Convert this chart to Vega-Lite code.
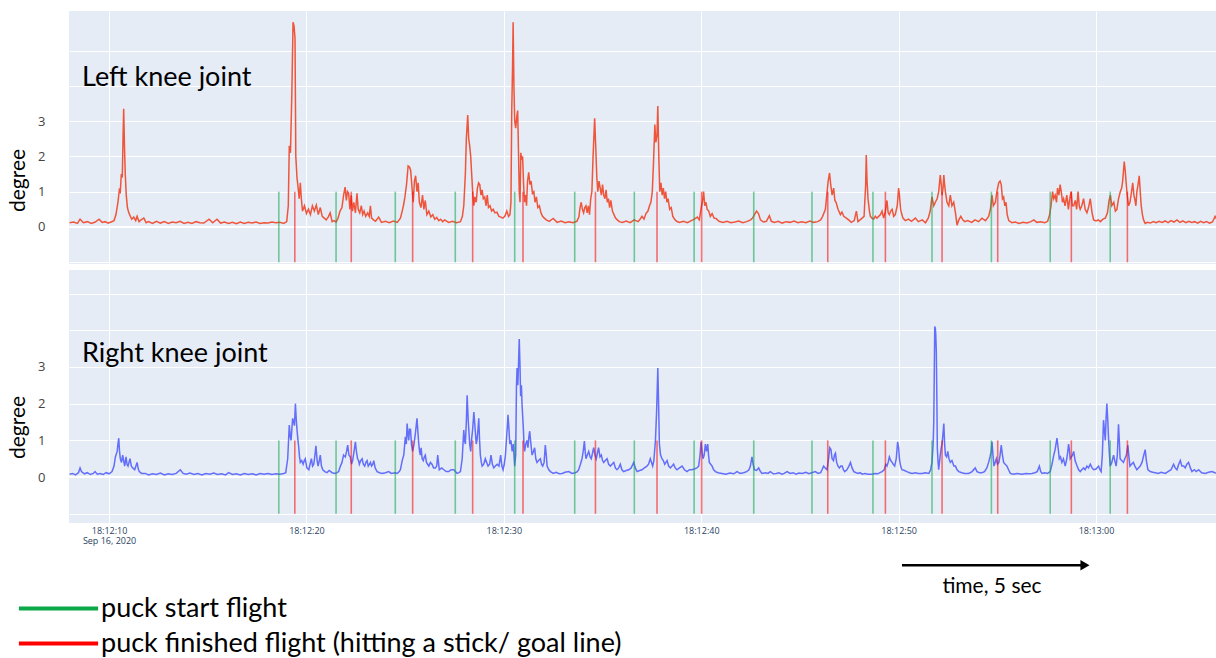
{
"$schema": "https://vega.github.io/schema/vega-lite/v6.json",
"padding": {"left": 7, "top": 11, "right": 0, "bottom": 0},
"background": "white",
"config": {
  "view": {"fill": "#E5ECF6", "stroke": null},
  "axis": {"domain": false, "ticks": false, "gridColor": "white"}
},
"datasets": {
"E": [
{"t":"2020-09-16T18:12:18.60","e":"puck start flight"},
{"t":"2020-09-16T18:12:21.50","e":"puck start flight"},
{"t":"2020-09-16T18:12:24.50","e":"puck start flight"},
{"t":"2020-09-16T18:12:27.54","e":"puck start flight"},
{"t":"2020-09-16T18:12:30.55","e":"puck start flight"},
{"t":"2020-09-16T18:12:33.59","e":"puck start flight"},
{"t":"2020-09-16T18:12:36.61","e":"puck start flight"},
{"t":"2020-09-16T18:12:39.64","e":"puck start flight"},
{"t":"2020-09-16T18:12:42.66","e":"puck start flight"},
{"t":"2020-09-16T18:12:45.61","e":"puck start flight"},
{"t":"2020-09-16T18:12:48.70","e":"puck start flight"},
{"t":"2020-09-16T18:12:51.69","e":"puck start flight"},
{"t":"2020-09-16T18:12:54.70","e":"puck start flight"},
{"t":"2020-09-16T18:12:57.68","e":"puck start flight"},
{"t":"2020-09-16T18:13:00.72","e":"puck start flight"},
{"t":"2020-09-16T18:12:19.41","e":"puck finished flight (hitting a stick/ goal line)"},
{"t":"2020-09-16T18:12:22.27","e":"puck finished flight (hitting a stick/ goal line)"},
{"t":"2020-09-16T18:12:25.38","e":"puck finished flight (hitting a stick/ goal line)"},
{"t":"2020-09-16T18:12:28.42","e":"puck finished flight (hitting a stick/ goal line)"},
{"t":"2020-09-16T18:12:30.97","e":"puck finished flight (hitting a stick/ goal line)"},
{"t":"2020-09-16T18:12:34.64","e":"puck finished flight (hitting a stick/ goal line)"},
{"t":"2020-09-16T18:12:37.76","e":"puck finished flight (hitting a stick/ goal line)"},
{"t":"2020-09-16T18:12:40.02","e":"puck finished flight (hitting a stick/ goal line)"},
{"t":"2020-09-16T18:12:46.41","e":"puck finished flight (hitting a stick/ goal line)"},
{"t":"2020-09-16T18:12:49.33","e":"puck finished flight (hitting a stick/ goal line)"},
{"t":"2020-09-16T18:12:52.20","e":"puck finished flight (hitting a stick/ goal line)"},
{"t":"2020-09-16T18:12:55.02","e":"puck finished flight (hitting a stick/ goal line)"},
{"t":"2020-09-16T18:12:58.75","e":"puck finished flight (hitting a stick/ goal line)"},
{"t":"2020-09-16T18:13:01.59","e":"puck finished flight (hitting a stick/ goal line)"}
],
"L": [
{"t":"2020-09-16T18:12:08.00","v":0.12},{"t":"2020-09-16T18:12:08.20","v":0.14},{"t":"2020-09-16T18:12:08.40","v":0.1},{"t":"2020-09-16T18:12:08.53","v":0.22},{"t":"2020-09-16T18:12:08.70","v":0.12},{"t":"2020-09-16T18:12:08.90","v":0.15},{"t":"2020-09-16T18:12:09.10","v":0.1},{"t":"2020-09-16T18:12:09.30","v":0.14},{"t":"2020-09-16T18:12:09.49","v":0.22},{"t":"2020-09-16T18:12:09.65","v":0.13},{"t":"2020-09-16T18:12:09.80","v":0.15},{"t":"2020-09-16T18:12:09.95","v":0.11},
{"t":"2020-09-16T18:12:10.10","v":0.14},{"t":"2020-09-16T18:12:10.25","v":0.18},{"t":"2020-09-16T18:12:10.35","v":0.35},{"t":"2020-09-16T18:12:10.45","v":0.7},{"t":"2020-09-16T18:12:10.52","v":1.05},{"t":"2020-09-16T18:12:10.57","v":1.0},{"t":"2020-09-16T18:12:10.62","v":1.5},{"t":"2020-09-16T18:12:10.67","v":1.4},{"t":"2020-09-16T18:12:10.71","v":2.6},{"t":"2020-09-16T18:12:10.74","v":3.35},{"t":"2020-09-16T18:12:10.78","v":2.3},{"t":"2020-09-16T18:12:10.82","v":1.5},{"t":"2020-09-16T18:12:10.87","v":0.9},{"t":"2020-09-16T18:12:10.93","v":0.55},
{"t":"2020-09-16T18:12:11.00","v":0.4},{"t":"2020-09-16T18:12:11.08","v":0.3},{"t":"2020-09-16T18:12:11.15","v":0.22},{"t":"2020-09-16T18:12:11.25","v":0.28},{"t":"2020-09-16T18:12:11.35","v":0.18},{"t":"2020-09-16T18:12:11.42","v":0.3},{"t":"2020-09-16T18:12:11.52","v":0.15},{"t":"2020-09-16T18:12:11.62","v":0.2},{"t":"2020-09-16T18:12:11.76","v":0.25},{"t":"2020-09-16T18:12:11.88","v":0.12},
{"t":"2020-09-16T18:12:12.00","v":0.15},{"t":"2020-09-16T18:12:12.20","v":0.1},{"t":"2020-09-16T18:12:12.40","v":0.16},{"t":"2020-09-16T18:12:12.60","v":0.11},{"t":"2020-09-16T18:12:12.80","v":0.15},{"t":"2020-09-16T18:12:13.00","v":0.1},{"t":"2020-09-16T18:12:13.20","v":0.14},{"t":"2020-09-16T18:12:13.40","v":0.12},{"t":"2020-09-16T18:12:13.60","v":0.16},{"t":"2020-09-16T18:12:13.80","v":0.1},{"t":"2020-09-16T18:12:14.00","v":0.13},{"t":"2020-09-16T18:12:14.20","v":0.1},{"t":"2020-09-16T18:12:14.40","v":0.15},{"t":"2020-09-16T18:12:14.60","v":0.12},{"t":"2020-09-16T18:12:14.80","v":0.11},{"t":"2020-09-16T18:12:15.07","v":0.22},{"t":"2020-09-16T18:12:15.25","v":0.12},{"t":"2020-09-16T18:12:15.47","v":0.22},{"t":"2020-09-16T18:12:15.65","v":0.11},{"t":"2020-09-16T18:12:15.85","v":0.14},{"t":"2020-09-16T18:12:16.05","v":0.1},{"t":"2020-09-16T18:12:16.25","v":0.13},{"t":"2020-09-16T18:12:16.45","v":0.09},{"t":"2020-09-16T18:12:16.65","v":0.14},{"t":"2020-09-16T18:12:16.85","v":0.1},{"t":"2020-09-16T18:12:17.05","v":0.13},{"t":"2020-09-16T18:12:17.25","v":0.11},{"t":"2020-09-16T18:12:17.45","v":0.14},{"t":"2020-09-16T18:12:17.65","v":0.1},{"t":"2020-09-16T18:12:17.85","v":0.12},{"t":"2020-09-16T18:12:18.05","v":0.11},{"t":"2020-09-16T18:12:18.25","v":0.14},{"t":"2020-09-16T18:12:18.45","v":0.12},{"t":"2020-09-16T18:12:18.65","v":0.13},{"t":"2020-09-16T18:12:18.85","v":0.1},
{"t":"2020-09-16T18:12:19.00","v":0.15},{"t":"2020-09-16T18:12:19.08","v":0.6},{"t":"2020-09-16T18:12:19.13","v":2.3},{"t":"2020-09-16T18:12:19.19","v":2.1},{"t":"2020-09-16T18:12:19.26","v":3.8},{"t":"2020-09-16T18:12:19.32","v":5.8},{"t":"2020-09-16T18:12:19.37","v":5.7},{"t":"2020-09-16T18:12:19.42","v":5.35},{"t":"2020-09-16T18:12:19.46","v":2.0},{"t":"2020-09-16T18:12:19.52","v":1.4},{"t":"2020-09-16T18:12:19.58","v":1.1},{"t":"2020-09-16T18:12:19.63","v":0.8},{"t":"2020-09-16T18:12:19.69","v":1.25},{"t":"2020-09-16T18:12:19.74","v":0.8},{"t":"2020-09-16T18:12:19.80","v":0.45},{"t":"2020-09-16T18:12:19.90","v":0.6},
{"t":"2020-09-16T18:12:20.00","v":0.38},{"t":"2020-09-16T18:12:20.10","v":0.5},{"t":"2020-09-16T18:12:20.20","v":0.35},{"t":"2020-09-16T18:12:20.30","v":0.6},{"t":"2020-09-16T18:12:20.40","v":0.45},{"t":"2020-09-16T18:12:20.50","v":0.62},{"t":"2020-09-16T18:12:20.60","v":0.35},{"t":"2020-09-16T18:12:20.70","v":0.55},{"t":"2020-09-16T18:12:20.80","v":0.3},{"t":"2020-09-16T18:12:20.90","v":0.25},{"t":"2020-09-16T18:12:21.00","v":0.2},{"t":"2020-09-16T18:12:21.10","v":0.28},{"t":"2020-09-16T18:12:21.20","v":0.4},{"t":"2020-09-16T18:12:21.30","v":0.15},{"t":"2020-09-16T18:12:21.40","v":0.18},{"t":"2020-09-16T18:12:21.50","v":0.14},{"t":"2020-09-16T18:12:21.60","v":0.25},{"t":"2020-09-16T18:12:21.70","v":0.45},{"t":"2020-09-16T18:12:21.80","v":0.55},{"t":"2020-09-16T18:12:21.88","v":0.9},{"t":"2020-09-16T18:12:21.96","v":1.13},
{"t":"2020-09-16T18:12:22.02","v":0.75},{"t":"2020-09-16T18:12:22.08","v":1.0},{"t":"2020-09-16T18:12:22.14","v":0.95},{"t":"2020-09-16T18:12:22.20","v":0.5},{"t":"2020-09-16T18:12:22.27","v":0.9},{"t":"2020-09-16T18:12:22.33","v":0.45},{"t":"2020-09-16T18:12:22.40","v":0.7},{"t":"2020-09-16T18:12:22.48","v":0.4},{"t":"2020-09-16T18:12:22.56","v":0.95},{"t":"2020-09-16T18:12:22.62","v":0.5},{"t":"2020-09-16T18:12:22.70","v":0.4},{"t":"2020-09-16T18:12:22.78","v":0.6},{"t":"2020-09-16T18:12:22.85","v":0.35},{"t":"2020-09-16T18:12:22.92","v":0.45},{"t":"2020-09-16T18:12:23.00","v":0.3},{"t":"2020-09-16T18:12:23.10","v":0.4},{"t":"2020-09-16T18:12:23.18","v":0.3},{"t":"2020-09-16T18:12:23.24","v":0.6},{"t":"2020-09-16T18:12:23.30","v":0.25},{"t":"2020-09-16T18:12:23.40","v":0.2},{"t":"2020-09-16T18:12:23.50","v":0.16},{"t":"2020-09-16T18:12:23.66","v":0.28},{"t":"2020-09-16T18:12:23.80","v":0.13},{"t":"2020-09-16T18:12:24.00","v":0.16},{"t":"2020-09-16T18:12:24.20","v":0.12},{"t":"2020-09-16T18:12:24.40","v":0.17},{"t":"2020-09-16T18:12:24.60","v":0.13},{"t":"2020-09-16T18:12:24.76","v":0.25},{"t":"2020-09-16T18:12:24.85","v":0.45},{"t":"2020-09-16T18:12:24.93","v":0.65},
{"t":"2020-09-16T18:12:25.00","v":0.9},{"t":"2020-09-16T18:12:25.07","v":1.2},{"t":"2020-09-16T18:12:25.15","v":1.73},{"t":"2020-09-16T18:12:25.22","v":1.7},{"t":"2020-09-16T18:12:25.28","v":1.6},{"t":"2020-09-16T18:12:25.35","v":1.1},{"t":"2020-09-16T18:12:25.41","v":0.7},{"t":"2020-09-16T18:12:25.47","v":1.3},{"t":"2020-09-16T18:12:25.53","v":1.45},{"t":"2020-09-16T18:12:25.60","v":1.0},{"t":"2020-09-16T18:12:25.66","v":1.25},{"t":"2020-09-16T18:12:25.72","v":0.7},{"t":"2020-09-16T18:12:25.80","v":0.55},{"t":"2020-09-16T18:12:25.88","v":0.9},{"t":"2020-09-16T18:12:25.95","v":0.5},{"t":"2020-09-16T18:12:26.02","v":0.75},{"t":"2020-09-16T18:12:26.10","v":0.35},{"t":"2020-09-16T18:12:26.20","v":0.45},{"t":"2020-09-16T18:12:26.30","v":0.28},{"t":"2020-09-16T18:12:26.40","v":0.35},{"t":"2020-09-16T18:12:26.50","v":0.22},{"t":"2020-09-16T18:12:26.60","v":0.27},{"t":"2020-09-16T18:12:26.70","v":0.18},{"t":"2020-09-16T18:12:26.80","v":0.22},{"t":"2020-09-16T18:12:26.90","v":0.15},{"t":"2020-09-16T18:12:27.00","v":0.2},{"t":"2020-09-16T18:12:27.20","v":0.13},{"t":"2020-09-16T18:12:27.40","v":0.16},{"t":"2020-09-16T18:12:27.60","v":0.12},{"t":"2020-09-16T18:12:27.80","v":0.15},{"t":"2020-09-16T18:12:27.90","v":0.3},{"t":"2020-09-16T18:12:27.97","v":0.6},
{"t":"2020-09-16T18:12:28.05","v":1.5},{"t":"2020-09-16T18:12:28.10","v":2.5},{"t":"2020-09-16T18:12:28.17","v":3.17},{"t":"2020-09-16T18:12:28.22","v":2.5},{"t":"2020-09-16T18:12:28.27","v":2.3},{"t":"2020-09-16T18:12:28.32","v":2.0},{"t":"2020-09-16T18:12:28.37","v":1.5},{"t":"2020-09-16T18:12:28.42","v":1.0},{"t":"2020-09-16T18:12:28.48","v":0.6},{"t":"2020-09-16T18:12:28.53","v":0.85},{"t":"2020-09-16T18:12:28.60","v":0.7},{"t":"2020-09-16T18:12:28.66","v":1.1},{"t":"2020-09-16T18:12:28.72","v":1.25},{"t":"2020-09-16T18:12:28.78","v":1.2},{"t":"2020-09-16T18:12:28.84","v":0.9},{"t":"2020-09-16T18:12:28.90","v":1.05},{"t":"2020-09-16T18:12:28.96","v":0.8},{"t":"2020-09-16T18:12:29.03","v":0.85},{"t":"2020-09-16T18:12:29.10","v":0.6},{"t":"2020-09-16T18:12:29.16","v":0.9},{"t":"2020-09-16T18:12:29.22","v":0.55},{"t":"2020-09-16T18:12:29.30","v":0.6},{"t":"2020-09-16T18:12:29.38","v":0.45},{"t":"2020-09-16T18:12:29.46","v":0.5},{"t":"2020-09-16T18:12:29.55","v":0.4},{"t":"2020-09-16T18:12:29.65","v":0.42},{"t":"2020-09-16T18:12:29.75","v":0.3},{"t":"2020-09-16T18:12:29.85","v":0.28},{"t":"2020-09-16T18:12:29.95","v":0.25},
{"t":"2020-09-16T18:12:30.05","v":0.3},{"t":"2020-09-16T18:12:30.15","v":0.45},{"t":"2020-09-16T18:12:30.24","v":0.3},{"t":"2020-09-16T18:12:30.31","v":0.35},{"t":"2020-09-16T18:12:30.36","v":0.7},{"t":"2020-09-16T18:12:30.40","v":3.3},{"t":"2020-09-16T18:12:30.44","v":4.5},{"t":"2020-09-16T18:12:30.47","v":5.8},{"t":"2020-09-16T18:12:30.51","v":4.0},{"t":"2020-09-16T18:12:30.55","v":3.0},{"t":"2020-09-16T18:12:30.60","v":2.8},{"t":"2020-09-16T18:12:30.65","v":3.1},{"t":"2020-09-16T18:12:30.70","v":3.3},{"t":"2020-09-16T18:12:30.74","v":2.2},{"t":"2020-09-16T18:12:30.78","v":1.0},{"t":"2020-09-16T18:12:30.82","v":0.7},{"t":"2020-09-16T18:12:30.86","v":2.1},{"t":"2020-09-16T18:12:30.90","v":1.9},{"t":"2020-09-16T18:12:30.95","v":2.0},{"t":"2020-09-16T18:12:31.00","v":1.2},{"t":"2020-09-16T18:12:31.05","v":0.7},{"t":"2020-09-16T18:12:31.10","v":0.9},{"t":"2020-09-16T18:12:31.15","v":0.6},{"t":"2020-09-16T18:12:31.20","v":1.3},{"t":"2020-09-16T18:12:31.26","v":1.55},{"t":"2020-09-16T18:12:31.32","v":1.2},{"t":"2020-09-16T18:12:31.38","v":1.3},{"t":"2020-09-16T18:12:31.45","v":0.95},{"t":"2020-09-16T18:12:31.52","v":1.0},{"t":"2020-09-16T18:12:31.58","v":0.7},{"t":"2020-09-16T18:12:31.65","v":0.85},{"t":"2020-09-16T18:12:31.72","v":0.55},{"t":"2020-09-16T18:12:31.80","v":0.6},{"t":"2020-09-16T18:12:31.88","v":0.4},{"t":"2020-09-16T18:12:31.96","v":0.3},{"t":"2020-09-16T18:12:32.05","v":0.25},{"t":"2020-09-16T18:12:32.15","v":0.2},{"t":"2020-09-16T18:12:32.30","v":0.16},{"t":"2020-09-16T18:12:32.50","v":0.24},{"t":"2020-09-16T18:12:32.70","v":0.13},{"t":"2020-09-16T18:12:32.90","v":0.17},{"t":"2020-09-16T18:12:33.10","v":0.12},{"t":"2020-09-16T18:12:33.30","v":0.15},{"t":"2020-09-16T18:12:33.50","v":0.12},{"t":"2020-09-16T18:12:33.70","v":0.16},{"t":"2020-09-16T18:12:33.80","v":0.28},{"t":"2020-09-16T18:12:33.86","v":0.55},{"t":"2020-09-16T18:12:33.92","v":0.7},{"t":"2020-09-16T18:12:33.98","v":0.5},
{"t":"2020-09-16T18:12:34.04","v":0.4},{"t":"2020-09-16T18:12:34.10","v":0.55},{"t":"2020-09-16T18:12:34.16","v":0.6},{"t":"2020-09-16T18:12:34.22","v":0.4},{"t":"2020-09-16T18:12:34.28","v":0.6},{"t":"2020-09-16T18:12:34.34","v":0.35},{"t":"2020-09-16T18:12:34.40","v":0.8},{"t":"2020-09-16T18:12:34.46","v":1.0},{"t":"2020-09-16T18:12:34.52","v":2.0},{"t":"2020-09-16T18:12:34.60","v":3.08},{"t":"2020-09-16T18:12:34.66","v":2.2},{"t":"2020-09-16T18:12:34.71","v":1.4},{"t":"2020-09-16T18:12:34.76","v":1.0},{"t":"2020-09-16T18:12:34.82","v":1.3},{"t":"2020-09-16T18:12:34.88","v":1.1},{"t":"2020-09-16T18:12:34.94","v":0.9},{"t":"2020-09-16T18:12:35.00","v":1.2},{"t":"2020-09-16T18:12:35.06","v":0.9},{"t":"2020-09-16T18:12:35.12","v":0.8},{"t":"2020-09-16T18:12:35.18","v":1.05},{"t":"2020-09-16T18:12:35.24","v":0.7},{"t":"2020-09-16T18:12:35.30","v":0.8},{"t":"2020-09-16T18:12:35.36","v":0.55},{"t":"2020-09-16T18:12:35.42","v":0.75},{"t":"2020-09-16T18:12:35.50","v":0.45},{"t":"2020-09-16T18:12:35.58","v":0.35},{"t":"2020-09-16T18:12:35.66","v":0.25},{"t":"2020-09-16T18:12:35.75","v":0.2},{"t":"2020-09-16T18:12:35.85","v":0.15},{"t":"2020-09-16T18:12:36.00","v":0.13},{"t":"2020-09-16T18:12:36.20","v":0.17},{"t":"2020-09-16T18:12:36.40","v":0.12},{"t":"2020-09-16T18:12:36.60","v":0.2},{"t":"2020-09-16T18:12:36.80","v":0.15},{"t":"2020-09-16T18:12:36.90","v":0.22},
{"t":"2020-09-16T18:12:37.00","v":0.3},{"t":"2020-09-16T18:12:37.10","v":0.22},{"t":"2020-09-16T18:12:37.20","v":0.38},{"t":"2020-09-16T18:12:37.30","v":0.45},{"t":"2020-09-16T18:12:37.38","v":0.6},{"t":"2020-09-16T18:12:37.45","v":0.7},{"t":"2020-09-16T18:12:37.52","v":1.0},{"t":"2020-09-16T18:12:37.58","v":1.8},{"t":"2020-09-16T18:12:37.65","v":2.9},{"t":"2020-09-16T18:12:37.70","v":2.4},{"t":"2020-09-16T18:12:37.76","v":2.6},{"t":"2020-09-16T18:12:37.80","v":3.43},{"t":"2020-09-16T18:12:37.85","v":2.0},{"t":"2020-09-16T18:12:37.90","v":1.0},{"t":"2020-09-16T18:12:37.96","v":1.25},{"t":"2020-09-16T18:12:38.02","v":0.9},{"t":"2020-09-16T18:12:38.08","v":1.1},{"t":"2020-09-16T18:12:38.14","v":0.8},{"t":"2020-09-16T18:12:38.20","v":1.0},{"t":"2020-09-16T18:12:38.26","v":0.7},{"t":"2020-09-16T18:12:38.32","v":0.8},{"t":"2020-09-16T18:12:38.40","v":0.5},{"t":"2020-09-16T18:12:38.48","v":0.55},{"t":"2020-09-16T18:12:38.56","v":0.3},{"t":"2020-09-16T18:12:38.65","v":0.22},{"t":"2020-09-16T18:12:38.75","v":0.16},{"t":"2020-09-16T18:12:38.90","v":0.13},{"t":"2020-09-16T18:12:39.10","v":0.16},{"t":"2020-09-16T18:12:39.30","v":0.12},{"t":"2020-09-16T18:12:39.50","v":0.18},{"t":"2020-09-16T18:12:39.65","v":0.22},{"t":"2020-09-16T18:12:39.80","v":0.28},{"t":"2020-09-16T18:12:39.90","v":0.2},
{"t":"2020-09-16T18:12:40.00","v":0.55},{"t":"2020-09-16T18:12:40.06","v":0.7},{"t":"2020-09-16T18:12:40.12","v":1.0},{"t":"2020-09-16T18:12:40.18","v":0.6},{"t":"2020-09-16T18:12:40.24","v":0.7},{"t":"2020-09-16T18:12:40.30","v":0.5},{"t":"2020-09-16T18:12:40.38","v":0.45},{"t":"2020-09-16T18:12:40.46","v":0.3},{"t":"2020-09-16T18:12:40.55","v":0.38},{"t":"2020-09-16T18:12:40.65","v":0.25},{"t":"2020-09-16T18:12:40.75","v":0.24},{"t":"2020-09-16T18:12:40.90","v":0.16},{"t":"2020-09-16T18:12:41.10","v":0.13},{"t":"2020-09-16T18:12:41.30","v":0.16},{"t":"2020-09-16T18:12:41.50","v":0.12},{"t":"2020-09-16T18:12:41.70","v":0.14},{"t":"2020-09-16T18:12:41.90","v":0.17},{"t":"2020-09-16T18:12:42.10","v":0.12},{"t":"2020-09-16T18:12:42.30","v":0.15},{"t":"2020-09-16T18:12:42.50","v":0.2},{"t":"2020-09-16T18:12:42.60","v":0.25},{"t":"2020-09-16T18:12:42.70","v":0.35},{"t":"2020-09-16T18:12:42.80","v":0.45},{"t":"2020-09-16T18:12:42.90","v":0.38},{"t":"2020-09-16T18:12:43.00","v":0.2},{"t":"2020-09-16T18:12:43.15","v":0.14},{"t":"2020-09-16T18:12:43.30","v":0.16},{"t":"2020-09-16T18:12:43.45","v":0.32},{"t":"2020-09-16T18:12:43.55","v":0.16},{"t":"2020-09-16T18:12:43.70","v":0.13},{"t":"2020-09-16T18:12:43.90","v":0.16},{"t":"2020-09-16T18:12:44.10","v":0.11},{"t":"2020-09-16T18:12:44.30","v":0.15},{"t":"2020-09-16T18:12:44.50","v":0.13},{"t":"2020-09-16T18:12:44.70","v":0.17},{"t":"2020-09-16T18:12:44.90","v":0.12},{"t":"2020-09-16T18:12:45.10","v":0.15},{"t":"2020-09-16T18:12:45.30","v":0.12},{"t":"2020-09-16T18:12:45.50","v":0.17},{"t":"2020-09-16T18:12:45.70","v":0.13},{"t":"2020-09-16T18:12:45.90","v":0.15},
{"t":"2020-09-16T18:12:46.05","v":0.2},{"t":"2020-09-16T18:12:46.15","v":0.3},{"t":"2020-09-16T18:12:46.29","v":0.5},{"t":"2020-09-16T18:12:46.36","v":0.9},{"t":"2020-09-16T18:12:46.43","v":1.3},{"t":"2020-09-16T18:12:46.50","v":1.53},{"t":"2020-09-16T18:12:46.56","v":1.2},{"t":"2020-09-16T18:12:46.63","v":0.9},{"t":"2020-09-16T18:12:46.71","v":1.1},{"t":"2020-09-16T18:12:46.77","v":0.75},{"t":"2020-09-16T18:12:46.83","v":0.7},{"t":"2020-09-16T18:12:46.93","v":0.5},{"t":"2020-09-16T18:12:47.05","v":0.35},{"t":"2020-09-16T18:12:47.13","v":0.42},{"t":"2020-09-16T18:12:47.22","v":0.3},{"t":"2020-09-16T18:12:47.35","v":0.25},{"t":"2020-09-16T18:12:47.47","v":0.2},{"t":"2020-09-16T18:12:47.60","v":0.13},{"t":"2020-09-16T18:12:47.75","v":0.18},{"t":"2020-09-16T18:12:47.86","v":0.45},{"t":"2020-09-16T18:12:47.94","v":0.15},{"t":"2020-09-16T18:12:48.05","v":0.2},{"t":"2020-09-16T18:12:48.15","v":0.25},{"t":"2020-09-16T18:12:48.25","v":0.3},{"t":"2020-09-16T18:12:48.33","v":1.2},{"t":"2020-09-16T18:12:48.36","v":2.04},{"t":"2020-09-16T18:12:48.40","v":1.3},{"t":"2020-09-16T18:12:48.45","v":0.8},{"t":"2020-09-16T18:12:48.52","v":0.45},{"t":"2020-09-16T18:12:48.57","v":0.3},{"t":"2020-09-16T18:12:48.65","v":0.25},{"t":"2020-09-16T18:12:48.73","v":0.22},{"t":"2020-09-16T18:12:48.82","v":0.3},{"t":"2020-09-16T18:12:48.90","v":0.25},{"t":"2020-09-16T18:12:48.99","v":0.3},{"t":"2020-09-16T18:12:49.08","v":0.35},{"t":"2020-09-16T18:12:49.16","v":0.45},{"t":"2020-09-16T18:12:49.24","v":0.25},{"t":"2020-09-16T18:12:49.33","v":0.45},{"t":"2020-09-16T18:12:49.41","v":0.75},{"t":"2020-09-16T18:12:49.47","v":0.4},{"t":"2020-09-16T18:12:49.53","v":0.35},{"t":"2020-09-16T18:12:49.60","v":0.45},{"t":"2020-09-16T18:12:49.67","v":0.5},{"t":"2020-09-16T18:12:49.75","v":0.3},{"t":"2020-09-16T18:12:49.83","v":0.35},{"t":"2020-09-16T18:12:49.93","v":0.6},
{"t":"2020-09-16T18:12:50.00","v":1.1},{"t":"2020-09-16T18:12:50.04","v":0.9},{"t":"2020-09-16T18:12:50.10","v":0.5},{"t":"2020-09-16T18:12:50.14","v":0.4},{"t":"2020-09-16T18:12:50.22","v":0.25},{"t":"2020-09-16T18:12:50.34","v":0.18},{"t":"2020-09-16T18:12:50.50","v":0.22},{"t":"2020-09-16T18:12:50.65","v":0.16},{"t":"2020-09-16T18:12:50.85","v":0.25},{"t":"2020-09-16T18:12:51.00","v":0.15},{"t":"2020-09-16T18:12:51.20","v":0.2},{"t":"2020-09-16T18:12:51.36","v":0.12},{"t":"2020-09-16T18:12:51.50","v":0.25},{"t":"2020-09-16T18:12:51.60","v":0.45},{"t":"2020-09-16T18:12:51.69","v":0.85},{"t":"2020-09-16T18:12:51.78","v":0.6},{"t":"2020-09-16T18:12:51.86","v":0.7},{"t":"2020-09-16T18:12:51.95","v":0.8},{"t":"2020-09-16T18:12:52.03","v":1.0},{"t":"2020-09-16T18:12:52.11","v":1.47},{"t":"2020-09-16T18:12:52.16","v":1.2},{"t":"2020-09-16T18:12:52.20","v":0.9},{"t":"2020-09-16T18:12:52.25","v":1.1},{"t":"2020-09-16T18:12:52.29","v":1.47},{"t":"2020-09-16T18:12:52.33","v":1.2},{"t":"2020-09-16T18:12:52.37","v":1.0},{"t":"2020-09-16T18:12:52.45","v":0.7},{"t":"2020-09-16T18:12:52.54","v":0.6},{"t":"2020-09-16T18:12:52.62","v":0.9},{"t":"2020-09-16T18:12:52.70","v":0.6},{"t":"2020-09-16T18:12:52.79","v":0.7},{"t":"2020-09-16T18:12:52.88","v":0.4},{"t":"2020-09-16T18:12:52.96","v":0.05},{"t":"2020-09-16T18:12:53.05","v":0.2},{"t":"2020-09-16T18:12:53.15","v":0.3},{"t":"2020-09-16T18:12:53.25","v":0.2},{"t":"2020-09-16T18:12:53.35","v":0.15},{"t":"2020-09-16T18:12:53.50","v":0.18},{"t":"2020-09-16T18:12:53.70","v":0.13},{"t":"2020-09-16T18:12:53.87","v":0.2},{"t":"2020-09-16T18:12:54.05","v":0.15},{"t":"2020-09-16T18:12:54.22","v":0.25},{"t":"2020-09-16T18:12:54.40","v":0.18},{"t":"2020-09-16T18:12:54.56","v":0.3},{"t":"2020-09-16T18:12:54.65","v":0.5},{"t":"2020-09-16T18:12:54.73","v":0.9},{"t":"2020-09-16T18:12:54.80","v":0.6},{"t":"2020-09-16T18:12:54.90","v":0.7},{"t":"2020-09-16T18:12:54.98","v":1.0},
{"t":"2020-09-16T18:12:55.07","v":1.25},{"t":"2020-09-16T18:12:55.14","v":1.3},{"t":"2020-09-16T18:12:55.20","v":1.2},{"t":"2020-09-16T18:12:55.26","v":0.8},{"t":"2020-09-16T18:12:55.32","v":0.85},{"t":"2020-09-16T18:12:55.38","v":0.6},{"t":"2020-09-16T18:12:55.44","v":0.7},{"t":"2020-09-16T18:12:55.50","v":0.35},{"t":"2020-09-16T18:12:55.58","v":0.18},{"t":"2020-09-16T18:12:55.74","v":0.12},{"t":"2020-09-16T18:12:55.90","v":0.14},{"t":"2020-09-16T18:12:56.10","v":0.1},{"t":"2020-09-16T18:12:56.30","v":0.13},{"t":"2020-09-16T18:12:56.50","v":0.11},{"t":"2020-09-16T18:12:56.70","v":0.15},{"t":"2020-09-16T18:12:56.85","v":0.2},{"t":"2020-09-16T18:12:57.00","v":0.13},{"t":"2020-09-16T18:12:57.20","v":0.15},{"t":"2020-09-16T18:12:57.40","v":0.12},{"t":"2020-09-16T18:12:57.55","v":0.16},{"t":"2020-09-16T18:12:57.65","v":0.35},{"t":"2020-09-16T18:12:57.72","v":0.6},{"t":"2020-09-16T18:12:57.80","v":1.0},{"t":"2020-09-16T18:12:57.86","v":0.8},{"t":"2020-09-16T18:12:57.93","v":0.9},{"t":"2020-09-16T18:12:58.00","v":0.7},{"t":"2020-09-16T18:12:58.05","v":1.1},{"t":"2020-09-16T18:12:58.12","v":0.9},{"t":"2020-09-16T18:12:58.18","v":1.2},{"t":"2020-09-16T18:12:58.24","v":1.0},{"t":"2020-09-16T18:12:58.30","v":0.7},{"t":"2020-09-16T18:12:58.36","v":0.8},{"t":"2020-09-16T18:12:58.43","v":0.6},{"t":"2020-09-16T18:12:58.52","v":0.9},{"t":"2020-09-16T18:12:58.60","v":0.5},{"t":"2020-09-16T18:12:58.67","v":0.8},{"t":"2020-09-16T18:12:58.74","v":1.0},{"t":"2020-09-16T18:12:58.80","v":0.6},{"t":"2020-09-16T18:12:58.87","v":0.6},{"t":"2020-09-16T18:12:58.95","v":0.75},{"t":"2020-09-16T18:12:59.02","v":0.5},{"t":"2020-09-16T18:12:59.09","v":1.0},{"t":"2020-09-16T18:12:59.15","v":0.6},{"t":"2020-09-16T18:12:59.20","v":0.5},{"t":"2020-09-16T18:12:59.28","v":0.6},{"t":"2020-09-16T18:12:59.37","v":0.8},{"t":"2020-09-16T18:12:59.45","v":0.5},{"t":"2020-09-16T18:12:59.54","v":0.4},{"t":"2020-09-16T18:12:59.62","v":0.55},{"t":"2020-09-16T18:12:59.71","v":0.8},{"t":"2020-09-16T18:12:59.80","v":0.4},{"t":"2020-09-16T18:12:59.88","v":0.2},
{"t":"2020-09-16T18:13:00.00","v":0.17},{"t":"2020-09-16T18:13:00.12","v":0.2},{"t":"2020-09-16T18:13:00.22","v":0.15},{"t":"2020-09-16T18:13:00.35","v":0.22},{"t":"2020-09-16T18:13:00.47","v":0.25},{"t":"2020-09-16T18:13:00.58","v":0.4},{"t":"2020-09-16T18:13:00.66","v":0.75},{"t":"2020-09-16T18:13:00.73","v":0.9},{"t":"2020-09-16T18:13:00.80","v":0.6},{"t":"2020-09-16T18:13:00.90","v":0.7},{"t":"2020-09-16T18:13:00.98","v":0.45},{"t":"2020-09-16T18:13:01.06","v":0.5},{"t":"2020-09-16T18:13:01.14","v":0.8},{"t":"2020-09-16T18:13:01.23","v":1.0},{"t":"2020-09-16T18:13:01.30","v":1.1},{"t":"2020-09-16T18:13:01.35","v":1.3},{"t":"2020-09-16T18:13:01.43","v":1.85},{"t":"2020-09-16T18:13:01.48","v":1.6},{"t":"2020-09-16T18:13:01.52","v":1.3},{"t":"2020-09-16T18:13:01.58","v":0.9},{"t":"2020-09-16T18:13:01.65","v":0.6},{"t":"2020-09-16T18:13:01.72","v":0.7},{"t":"2020-09-16T18:13:01.80","v":1.0},{"t":"2020-09-16T18:13:01.86","v":1.25},{"t":"2020-09-16T18:13:01.92","v":0.9},{"t":"2020-09-16T18:13:01.96","v":0.8},{"t":"2020-09-16T18:13:02.02","v":0.6},{"t":"2020-09-16T18:13:02.07","v":1.0},{"t":"2020-09-16T18:13:02.13","v":1.2},{"t":"2020-09-16T18:13:02.19","v":1.45},{"t":"2020-09-16T18:13:02.24","v":1.0},{"t":"2020-09-16T18:13:02.29","v":0.6},{"t":"2020-09-16T18:13:02.35","v":0.35},{"t":"2020-09-16T18:13:02.41","v":0.2},{"t":"2020-09-16T18:13:02.49","v":0.1},{"t":"2020-09-16T18:13:02.60","v":0.13},{"t":"2020-09-16T18:13:02.75","v":0.11},{"t":"2020-09-16T18:13:02.90","v":0.15},{"t":"2020-09-16T18:13:03.05","v":0.12},{"t":"2020-09-16T18:13:03.20","v":0.16},{"t":"2020-09-16T18:13:03.35","v":0.13},{"t":"2020-09-16T18:13:03.50","v":0.17},{"t":"2020-09-16T18:13:03.65","v":0.12},{"t":"2020-09-16T18:13:03.80","v":0.18},{"t":"2020-09-16T18:13:03.95","v":0.14},{"t":"2020-09-16T18:13:04.10","v":0.2},{"t":"2020-09-16T18:13:04.25","v":0.13},{"t":"2020-09-16T18:13:04.40","v":0.17},{"t":"2020-09-16T18:13:04.55","v":0.12},{"t":"2020-09-16T18:13:04.70","v":0.16},{"t":"2020-09-16T18:13:04.85","v":0.13},{"t":"2020-09-16T18:13:05.00","v":0.15},{"t":"2020-09-16T18:13:05.15","v":0.11},{"t":"2020-09-16T18:13:05.30","v":0.16},{"t":"2020-09-16T18:13:05.45","v":0.12},{"t":"2020-09-16T18:13:05.60","v":0.15},{"t":"2020-09-16T18:13:05.75","v":0.11},{"t":"2020-09-16T18:13:05.90","v":0.14},{"t":"2020-09-16T18:13:06.03","v":0.3},{"t":"2020-09-16T18:13:06.18","v":0.15}
],
"R": [
{"t":"2020-09-16T18:12:08.00","v":0.08},{"t":"2020-09-16T18:12:08.15","v":0.1},{"t":"2020-09-16T18:12:08.30","v":0.06},{"t":"2020-09-16T18:12:08.45","v":0.12},{"t":"2020-09-16T18:12:08.53","v":0.25},{"t":"2020-09-16T18:12:08.60","v":0.15},{"t":"2020-09-16T18:12:08.75","v":0.09},{"t":"2020-09-16T18:12:08.90","v":0.12},{"t":"2020-09-16T18:12:09.05","v":0.07},{"t":"2020-09-16T18:12:09.20","v":0.1},{"t":"2020-09-16T18:12:09.29","v":0.15},{"t":"2020-09-16T18:12:09.40","v":0.08},{"t":"2020-09-16T18:12:09.55","v":0.1},{"t":"2020-09-16T18:12:09.70","v":0.07},{"t":"2020-09-16T18:12:09.85","v":0.12},
{"t":"2020-09-16T18:12:10.00","v":0.09},{"t":"2020-09-16T18:12:10.15","v":0.15},{"t":"2020-09-16T18:12:10.25","v":0.3},{"t":"2020-09-16T18:12:10.32","v":0.55},{"t":"2020-09-16T18:12:10.41","v":0.7},{"t":"2020-09-16T18:12:10.45","v":0.9},{"t":"2020-09-16T18:12:10.49","v":1.06},{"t":"2020-09-16T18:12:10.53","v":0.7},{"t":"2020-09-16T18:12:10.57","v":0.5},{"t":"2020-09-16T18:12:10.63","v":0.4},{"t":"2020-09-16T18:12:10.69","v":0.6},{"t":"2020-09-16T18:12:10.74","v":0.45},{"t":"2020-09-16T18:12:10.79","v":0.3},{"t":"2020-09-16T18:12:10.86","v":0.55},{"t":"2020-09-16T18:12:10.91","v":0.35},{"t":"2020-09-16T18:12:10.96","v":0.3},{"t":"2020-09-16T18:12:11.01","v":0.4},{"t":"2020-09-16T18:12:11.06","v":0.5},{"t":"2020-09-16T18:12:11.13","v":0.3},{"t":"2020-09-16T18:12:11.20","v":0.25},{"t":"2020-09-16T18:12:11.30","v":0.2},{"t":"2020-09-16T18:12:11.36","v":0.3},{"t":"2020-09-16T18:12:11.42","v":0.4},{"t":"2020-09-16T18:12:11.48","v":0.22},{"t":"2020-09-16T18:12:11.53","v":0.15},{"t":"2020-09-16T18:12:11.65","v":0.1},{"t":"2020-09-16T18:12:11.84","v":0.1},
{"t":"2020-09-16T18:12:12.00","v":0.06},{"t":"2020-09-16T18:12:12.20","v":0.09},{"t":"2020-09-16T18:12:12.40","v":0.07},{"t":"2020-09-16T18:12:12.60","v":0.11},{"t":"2020-09-16T18:12:12.80","v":0.06},{"t":"2020-09-16T18:12:13.00","v":0.09},{"t":"2020-09-16T18:12:13.20","v":0.07},{"t":"2020-09-16T18:12:13.40","v":0.1},{"t":"2020-09-16T18:12:13.61","v":0.2},{"t":"2020-09-16T18:12:13.75","v":0.1},{"t":"2020-09-16T18:12:13.90","v":0.08},{"t":"2020-09-16T18:12:14.10","v":0.11},{"t":"2020-09-16T18:12:14.30","v":0.07},{"t":"2020-09-16T18:12:14.50","v":0.1},{"t":"2020-09-16T18:12:14.70","v":0.06},{"t":"2020-09-16T18:12:14.90","v":0.1},{"t":"2020-09-16T18:12:15.10","v":0.08},{"t":"2020-09-16T18:12:15.30","v":0.11},{"t":"2020-09-16T18:12:15.50","v":0.07},{"t":"2020-09-16T18:12:15.70","v":0.09},{"t":"2020-09-16T18:12:15.90","v":0.06},{"t":"2020-09-16T18:12:16.06","v":0.12},{"t":"2020-09-16T18:12:16.25","v":0.07},{"t":"2020-09-16T18:12:16.45","v":0.09},{"t":"2020-09-16T18:12:16.65","v":0.06},{"t":"2020-09-16T18:12:16.85","v":0.1},{"t":"2020-09-16T18:12:17.05","v":0.07},{"t":"2020-09-16T18:12:17.25","v":0.09},{"t":"2020-09-16T18:12:17.45","v":0.06},{"t":"2020-09-16T18:12:17.65","v":0.1},{"t":"2020-09-16T18:12:17.85","v":0.08},{"t":"2020-09-16T18:12:18.05","v":0.1},{"t":"2020-09-16T18:12:18.25","v":0.07},{"t":"2020-09-16T18:12:18.45","v":0.09},{"t":"2020-09-16T18:12:18.65","v":0.08},{"t":"2020-09-16T18:12:18.85","v":0.1},{"t":"2020-09-16T18:12:18.95","v":0.12},
{"t":"2020-09-16T18:12:19.05","v":0.5},{"t":"2020-09-16T18:12:19.13","v":1.42},{"t":"2020-09-16T18:12:19.18","v":1.1},{"t":"2020-09-16T18:12:19.22","v":1.0},{"t":"2020-09-16T18:12:19.26","v":1.3},{"t":"2020-09-16T18:12:19.30","v":1.6},{"t":"2020-09-16T18:12:19.35","v":1.5},{"t":"2020-09-16T18:12:19.39","v":1.4},{"t":"2020-09-16T18:12:19.44","v":2.0},{"t":"2020-09-16T18:12:19.48","v":1.6},{"t":"2020-09-16T18:12:19.52","v":1.3},{"t":"2020-09-16T18:12:19.57","v":1.0},{"t":"2020-09-16T18:12:19.61","v":0.8},{"t":"2020-09-16T18:12:19.65","v":0.55},{"t":"2020-09-16T18:12:19.69","v":0.4},{"t":"2020-09-16T18:12:19.76","v":0.45},{"t":"2020-09-16T18:12:19.83","v":0.35},{"t":"2020-09-16T18:12:19.89","v":0.45},{"t":"2020-09-16T18:12:19.94","v":0.5},{"t":"2020-09-16T18:12:20.02","v":0.25},{"t":"2020-09-16T18:12:20.12","v":0.2},{"t":"2020-09-16T18:12:20.18","v":0.35},{"t":"2020-09-16T18:12:20.25","v":0.5},{"t":"2020-09-16T18:12:20.31","v":0.3},{"t":"2020-09-16T18:12:20.37","v":0.35},{"t":"2020-09-16T18:12:20.43","v":0.6},{"t":"2020-09-16T18:12:20.48","v":0.85},{"t":"2020-09-16T18:12:20.54","v":0.45},{"t":"2020-09-16T18:12:20.59","v":0.3},{"t":"2020-09-16T18:12:20.65","v":0.45},{"t":"2020-09-16T18:12:20.70","v":0.6},{"t":"2020-09-16T18:12:20.76","v":0.3},{"t":"2020-09-16T18:12:20.83","v":0.2},{"t":"2020-09-16T18:12:20.93","v":0.15},{"t":"2020-09-16T18:12:21.04","v":0.12},{"t":"2020-09-16T18:12:21.15","v":0.18},{"t":"2020-09-16T18:12:21.30","v":0.12},{"t":"2020-09-16T18:12:21.46","v":0.1},{"t":"2020-09-16T18:12:21.55","v":0.12},{"t":"2020-09-16T18:12:21.63","v":0.15},{"t":"2020-09-16T18:12:21.72","v":0.3},{"t":"2020-09-16T18:12:21.80","v":0.4},{"t":"2020-09-16T18:12:21.88","v":0.6},{"t":"2020-09-16T18:12:21.97","v":0.55},
{"t":"2020-09-16T18:12:22.03","v":0.7},{"t":"2020-09-16T18:12:22.09","v":0.87},{"t":"2020-09-16T18:12:22.15","v":0.6},{"t":"2020-09-16T18:12:22.22","v":0.55},{"t":"2020-09-16T18:12:22.28","v":0.35},{"t":"2020-09-16T18:12:22.34","v":0.45},{"t":"2020-09-16T18:12:22.41","v":0.7},{"t":"2020-09-16T18:12:22.48","v":0.96},{"t":"2020-09-16T18:12:22.53","v":0.7},{"t":"2020-09-16T18:12:22.59","v":0.5},{"t":"2020-09-16T18:12:22.64","v":0.45},{"t":"2020-09-16T18:12:22.68","v":0.35},{"t":"2020-09-16T18:12:22.75","v":0.45},{"t":"2020-09-16T18:12:22.82","v":0.5},{"t":"2020-09-16T18:12:22.88","v":0.35},{"t":"2020-09-16T18:12:22.95","v":0.3},{"t":"2020-09-16T18:12:23.01","v":0.4},{"t":"2020-09-16T18:12:23.07","v":0.45},{"t":"2020-09-16T18:12:23.13","v":0.3},{"t":"2020-09-16T18:12:23.19","v":0.35},{"t":"2020-09-16T18:12:23.24","v":0.4},{"t":"2020-09-16T18:12:23.30","v":0.3},{"t":"2020-09-16T18:12:23.36","v":0.35},{"t":"2020-09-16T18:12:23.41","v":0.45},{"t":"2020-09-16T18:12:23.48","v":0.25},{"t":"2020-09-16T18:12:23.58","v":0.15},{"t":"2020-09-16T18:12:23.70","v":0.12},{"t":"2020-09-16T18:12:23.83","v":0.1},{"t":"2020-09-16T18:12:24.00","v":0.12},{"t":"2020-09-16T18:12:24.17","v":0.15},{"t":"2020-09-16T18:12:24.30","v":0.1},{"t":"2020-09-16T18:12:24.50","v":0.12},{"t":"2020-09-16T18:12:24.60","v":0.1},{"t":"2020-09-16T18:12:24.70","v":0.15},{"t":"2020-09-16T18:12:24.76","v":0.2},{"t":"2020-09-16T18:12:24.85","v":0.45},{"t":"2020-09-16T18:12:24.93","v":0.6},
{"t":"2020-09-16T18:12:25.01","v":1.1},{"t":"2020-09-16T18:12:25.06","v":0.9},{"t":"2020-09-16T18:12:25.10","v":1.46},{"t":"2020-09-16T18:12:25.14","v":1.2},{"t":"2020-09-16T18:12:25.18","v":1.0},{"t":"2020-09-16T18:12:25.22","v":1.3},{"t":"2020-09-16T18:12:25.27","v":1.3},{"t":"2020-09-16T18:12:25.32","v":0.9},{"t":"2020-09-16T18:12:25.38","v":0.7},{"t":"2020-09-16T18:12:25.45","v":0.9},{"t":"2020-09-16T18:12:25.52","v":1.2},{"t":"2020-09-16T18:12:25.60","v":1.6},{"t":"2020-09-16T18:12:25.65","v":1.2},{"t":"2020-09-16T18:12:25.69","v":0.9},{"t":"2020-09-16T18:12:25.73","v":0.7},{"t":"2020-09-16T18:12:25.77","v":0.6},{"t":"2020-09-16T18:12:25.81","v":0.8},{"t":"2020-09-16T18:12:25.86","v":0.5},{"t":"2020-09-16T18:12:25.92","v":0.45},{"t":"2020-09-16T18:12:25.97","v":0.55},{"t":"2020-09-16T18:12:26.02","v":0.6},{"t":"2020-09-16T18:12:26.08","v":0.4},{"t":"2020-09-16T18:12:26.14","v":0.35},{"t":"2020-09-16T18:12:26.20","v":0.3},{"t":"2020-09-16T18:12:26.28","v":0.4},{"t":"2020-09-16T18:12:26.36","v":0.35},{"t":"2020-09-16T18:12:26.44","v":0.25},{"t":"2020-09-16T18:12:26.53","v":0.25},{"t":"2020-09-16T18:12:26.60","v":0.3},{"t":"2020-09-16T18:12:26.65","v":0.6},{"t":"2020-09-16T18:12:26.70","v":0.35},{"t":"2020-09-16T18:12:26.73","v":0.2},{"t":"2020-09-16T18:12:26.85","v":0.25},{"t":"2020-09-16T18:12:26.96","v":0.2},{"t":"2020-09-16T18:12:27.08","v":0.15},{"t":"2020-09-16T18:12:27.21","v":0.15},{"t":"2020-09-16T18:12:27.33","v":0.2},{"t":"2020-09-16T18:12:27.46","v":0.2},{"t":"2020-09-16T18:12:27.55","v":0.15},{"t":"2020-09-16T18:12:27.63","v":0.1},{"t":"2020-09-16T18:12:27.72","v":0.12},{"t":"2020-09-16T18:12:27.80","v":0.15},{"t":"2020-09-16T18:12:27.89","v":0.5},{"t":"2020-09-16T18:12:27.97","v":1.28},
{"t":"2020-09-16T18:12:28.01","v":1.0},{"t":"2020-09-16T18:12:28.05","v":0.9},{"t":"2020-09-16T18:12:28.10","v":1.5},{"t":"2020-09-16T18:12:28.14","v":2.23},{"t":"2020-09-16T18:12:28.20","v":1.5},{"t":"2020-09-16T18:12:28.27","v":0.9},{"t":"2020-09-16T18:12:28.32","v":0.7},{"t":"2020-09-16T18:12:28.36","v":1.0},{"t":"2020-09-16T18:12:28.42","v":1.3},{"t":"2020-09-16T18:12:28.48","v":1.77},{"t":"2020-09-16T18:12:28.52","v":1.5},{"t":"2020-09-16T18:12:28.56","v":1.2},{"t":"2020-09-16T18:12:28.60","v":0.9},{"t":"2020-09-16T18:12:28.64","v":1.0},{"t":"2020-09-16T18:12:28.69","v":1.3},{"t":"2020-09-16T18:12:28.73","v":1.6},{"t":"2020-09-16T18:12:28.77","v":1.0},{"t":"2020-09-16T18:12:28.81","v":0.6},{"t":"2020-09-16T18:12:28.86","v":0.4},{"t":"2020-09-16T18:12:28.90","v":0.3},{"t":"2020-09-16T18:12:28.98","v":0.35},{"t":"2020-09-16T18:12:29.06","v":0.5},{"t":"2020-09-16T18:12:29.13","v":0.4},{"t":"2020-09-16T18:12:29.20","v":0.3},{"t":"2020-09-16T18:12:29.28","v":0.35},{"t":"2020-09-16T18:12:29.35","v":0.6},{"t":"2020-09-16T18:12:29.42","v":0.35},{"t":"2020-09-16T18:12:29.49","v":0.25},{"t":"2020-09-16T18:12:29.57","v":0.3},{"t":"2020-09-16T18:12:29.66","v":0.35},{"t":"2020-09-16T18:12:29.75","v":0.3},{"t":"2020-09-16T18:12:29.84","v":0.6},{"t":"2020-09-16T18:12:29.90","v":0.3},{"t":"2020-09-16T18:12:29.96","v":0.2},
{"t":"2020-09-16T18:12:30.02","v":0.35},{"t":"2020-09-16T18:12:30.08","v":0.6},{"t":"2020-09-16T18:12:30.14","v":1.1},{"t":"2020-09-16T18:12:30.18","v":1.4},{"t":"2020-09-16T18:12:30.21","v":1.7},{"t":"2020-09-16T18:12:30.26","v":1.3},{"t":"2020-09-16T18:12:30.30","v":0.9},{"t":"2020-09-16T18:12:30.36","v":1.0},{"t":"2020-09-16T18:12:30.42","v":0.7},{"t":"2020-09-16T18:12:30.48","v":0.9},{"t":"2020-09-16T18:12:30.55","v":0.3},{"t":"2020-09-16T18:12:30.60","v":0.6},{"t":"2020-09-16T18:12:30.64","v":2.5},{"t":"2020-09-16T18:12:30.67","v":2.97},{"t":"2020-09-16T18:12:30.71","v":2.5},{"t":"2020-09-16T18:12:30.75","v":3.2},{"t":"2020-09-16T18:12:30.78","v":3.76},{"t":"2020-09-16T18:12:30.82","v":3.0},{"t":"2020-09-16T18:12:30.85","v":2.2},{"t":"2020-09-16T18:12:30.89","v":2.5},{"t":"2020-09-16T18:12:30.92","v":2.0},{"t":"2020-09-16T18:12:30.96","v":1.6},{"t":"2020-09-16T18:12:30.99","v":1.3},{"t":"2020-09-16T18:12:31.02","v":0.9},{"t":"2020-09-16T18:12:31.05","v":0.7},{"t":"2020-09-16T18:12:31.11","v":0.9},{"t":"2020-09-16T18:12:31.17","v":1.0},{"t":"2020-09-16T18:12:31.22","v":0.8},{"t":"2020-09-16T18:12:31.27","v":1.1},{"t":"2020-09-16T18:12:31.31","v":1.25},{"t":"2020-09-16T18:12:31.37","v":0.9},{"t":"2020-09-16T18:12:31.43","v":0.6},{"t":"2020-09-16T18:12:31.50","v":0.7},{"t":"2020-09-16T18:12:31.56","v":0.8},{"t":"2020-09-16T18:12:31.62","v":0.5},{"t":"2020-09-16T18:12:31.68","v":0.4},{"t":"2020-09-16T18:12:31.76","v":0.45},{"t":"2020-09-16T18:12:31.85","v":0.5},{"t":"2020-09-16T18:12:31.91","v":0.35},{"t":"2020-09-16T18:12:31.97","v":0.3},{"t":"2020-09-16T18:12:32.04","v":0.4},{"t":"2020-09-16T18:12:32.10","v":0.87},{"t":"2020-09-16T18:12:32.15","v":0.6},{"t":"2020-09-16T18:12:32.19","v":0.3},{"t":"2020-09-16T18:12:32.28","v":0.2},{"t":"2020-09-16T18:12:32.36","v":0.15},{"t":"2020-09-16T18:12:32.50","v":0.1},{"t":"2020-09-16T18:12:32.65","v":0.13},{"t":"2020-09-16T18:12:32.80","v":0.09},{"t":"2020-09-16T18:12:32.95","v":0.1},{"t":"2020-09-16T18:12:33.10","v":0.13},{"t":"2020-09-16T18:12:33.29","v":0.15},{"t":"2020-09-16T18:12:33.45","v":0.1},{"t":"2020-09-16T18:12:33.62","v":0.12},{"t":"2020-09-16T18:12:33.72","v":0.15},{"t":"2020-09-16T18:12:33.79","v":0.2},{"t":"2020-09-16T18:12:33.88","v":0.35},{"t":"2020-09-16T18:12:33.96","v":0.5},
{"t":"2020-09-16T18:12:34.02","v":0.7},{"t":"2020-09-16T18:12:34.08","v":0.98},{"t":"2020-09-16T18:12:34.12","v":0.7},{"t":"2020-09-16T18:12:34.16","v":0.5},{"t":"2020-09-16T18:12:34.23","v":0.6},{"t":"2020-09-16T18:12:34.30","v":0.7},{"t":"2020-09-16T18:12:34.37","v":0.55},{"t":"2020-09-16T18:12:34.43","v":0.5},{"t":"2020-09-16T18:12:34.49","v":0.65},{"t":"2020-09-16T18:12:34.55","v":0.8},{"t":"2020-09-16T18:12:34.62","v":0.6},{"t":"2020-09-16T18:12:34.68","v":0.5},{"t":"2020-09-16T18:12:34.74","v":0.65},{"t":"2020-09-16T18:12:34.80","v":0.8},{"t":"2020-09-16T18:12:34.87","v":0.55},{"t":"2020-09-16T18:12:34.94","v":0.6},{"t":"2020-09-16T18:12:35.00","v":0.45},{"t":"2020-09-16T18:12:35.06","v":0.4},{"t":"2020-09-16T18:12:35.14","v":0.45},{"t":"2020-09-16T18:12:35.23","v":0.5},{"t":"2020-09-16T18:12:35.31","v":0.35},{"t":"2020-09-16T18:12:35.40","v":0.3},{"t":"2020-09-16T18:12:35.48","v":0.35},{"t":"2020-09-16T18:12:35.57","v":0.4},{"t":"2020-09-16T18:12:35.65","v":0.25},{"t":"2020-09-16T18:12:35.73","v":0.2},{"t":"2020-09-16T18:12:35.82","v":0.25},{"t":"2020-09-16T18:12:35.90","v":0.35},{"t":"2020-09-16T18:12:35.98","v":0.2},{"t":"2020-09-16T18:12:36.07","v":0.15},{"t":"2020-09-16T18:12:36.20","v":0.18},{"t":"2020-09-16T18:12:36.33","v":0.2},{"t":"2020-09-16T18:12:36.45","v":0.25},{"t":"2020-09-16T18:12:36.58","v":0.4},{"t":"2020-09-16T18:12:36.66","v":0.25},{"t":"2020-09-16T18:12:36.75","v":0.15},{"t":"2020-09-16T18:12:36.88","v":0.18},{"t":"2020-09-16T18:12:37.00","v":0.2},{"t":"2020-09-16T18:12:37.12","v":0.25},{"t":"2020-09-16T18:12:37.25","v":0.3},{"t":"2020-09-16T18:12:37.33","v":0.35},{"t":"2020-09-16T18:12:37.42","v":0.5},{"t":"2020-09-16T18:12:37.48","v":0.4},{"t":"2020-09-16T18:12:37.54","v":0.3},{"t":"2020-09-16T18:12:37.60","v":0.45},{"t":"2020-09-16T18:12:37.68","v":1.0},{"t":"2020-09-16T18:12:37.74","v":1.8},{"t":"2020-09-16T18:12:37.80","v":2.97},{"t":"2020-09-16T18:12:37.84","v":2.0},{"t":"2020-09-16T18:12:37.88","v":0.9},{"t":"2020-09-16T18:12:37.94","v":0.6},
{"t":"2020-09-16T18:12:38.01","v":0.5},{"t":"2020-09-16T18:12:38.08","v":0.45},{"t":"2020-09-16T18:12:38.15","v":0.35},{"t":"2020-09-16T18:12:38.21","v":0.4},{"t":"2020-09-16T18:12:38.27","v":0.45},{"t":"2020-09-16T18:12:38.35","v":0.3},{"t":"2020-09-16T18:12:38.44","v":0.25},{"t":"2020-09-16T18:12:38.52","v":0.3},{"t":"2020-09-16T18:12:38.60","v":0.35},{"t":"2020-09-16T18:12:38.68","v":0.25},{"t":"2020-09-16T18:12:38.77","v":0.2},{"t":"2020-09-16T18:12:38.90","v":0.25},{"t":"2020-09-16T18:12:39.03","v":0.3},{"t":"2020-09-16T18:12:39.15","v":0.2},{"t":"2020-09-16T18:12:39.28","v":0.15},{"t":"2020-09-16T18:12:39.40","v":0.2},{"t":"2020-09-16T18:12:39.53","v":0.2},{"t":"2020-09-16T18:12:39.65","v":0.22},{"t":"2020-09-16T18:12:39.78","v":0.25},{"t":"2020-09-16T18:12:39.87","v":0.3},{"t":"2020-09-16T18:12:39.94","v":0.6},{"t":"2020-09-16T18:12:39.99","v":0.96},{"t":"2020-09-16T18:12:40.04","v":0.7},{"t":"2020-09-16T18:12:40.09","v":0.5},{"t":"2020-09-16T18:12:40.15","v":0.6},{"t":"2020-09-16T18:12:40.21","v":0.9},{"t":"2020-09-16T18:12:40.27","v":0.7},{"t":"2020-09-16T18:12:40.33","v":0.9},{"t":"2020-09-16T18:12:40.37","v":0.6},{"t":"2020-09-16T18:12:40.41","v":0.4},{"t":"2020-09-16T18:12:40.48","v":0.35},{"t":"2020-09-16T18:12:40.55","v":0.3},{"t":"2020-09-16T18:12:40.63","v":0.2},{"t":"2020-09-16T18:12:40.72","v":0.15},{"t":"2020-09-16T18:12:40.85","v":0.12},{"t":"2020-09-16T18:12:41.05","v":0.1},{"t":"2020-09-16T18:12:41.25","v":0.08},{"t":"2020-09-16T18:12:41.45","v":0.11},{"t":"2020-09-16T18:12:41.65","v":0.09},{"t":"2020-09-16T18:12:41.81","v":0.15},{"t":"2020-09-16T18:12:41.98","v":0.1},{"t":"2020-09-16T18:12:42.15","v":0.12},{"t":"2020-09-16T18:12:42.30","v":0.15},{"t":"2020-09-16T18:12:42.42","v":0.2},{"t":"2020-09-16T18:12:42.49","v":0.3},{"t":"2020-09-16T18:12:42.57","v":0.55},{"t":"2020-09-16T18:12:42.63","v":0.35},{"t":"2020-09-16T18:12:42.69","v":0.2},{"t":"2020-09-16T18:12:42.80","v":0.18},{"t":"2020-09-16T18:12:42.91","v":0.25},{"t":"2020-09-16T18:12:43.00","v":0.15},{"t":"2020-09-16T18:12:43.08","v":0.1},{"t":"2020-09-16T18:12:43.25","v":0.12},{"t":"2020-09-16T18:12:43.38","v":0.1},{"t":"2020-09-16T18:12:43.50","v":0.15},{"t":"2020-09-16T18:12:43.65","v":0.09},{"t":"2020-09-16T18:12:43.80","v":0.1},{"t":"2020-09-16T18:12:43.93","v":0.12},{"t":"2020-09-16T18:12:44.10","v":0.08},{"t":"2020-09-16T18:12:44.20","v":0.1},{"t":"2020-09-16T18:12:44.35","v":0.15},{"t":"2020-09-16T18:12:44.50","v":0.1},{"t":"2020-09-16T18:12:44.65","v":0.12},{"t":"2020-09-16T18:12:44.80","v":0.08},{"t":"2020-09-16T18:12:44.95","v":0.11},{"t":"2020-09-16T18:12:45.11","v":0.1},{"t":"2020-09-16T18:12:45.30","v":0.13},{"t":"2020-09-16T18:12:45.45","v":0.09},{"t":"2020-09-16T18:12:45.60","v":0.12},{"t":"2020-09-16T18:12:45.78","v":0.15},{"t":"2020-09-16T18:12:45.92","v":0.1},
{"t":"2020-09-16T18:12:46.05","v":0.12},{"t":"2020-09-16T18:12:46.12","v":0.2},{"t":"2020-09-16T18:12:46.20","v":0.3},{"t":"2020-09-16T18:12:46.28","v":0.25},{"t":"2020-09-16T18:12:46.37","v":0.2},{"t":"2020-09-16T18:12:46.44","v":0.45},{"t":"2020-09-16T18:12:46.51","v":0.8},{"t":"2020-09-16T18:12:46.57","v":0.75},{"t":"2020-09-16T18:12:46.63","v":0.5},{"t":"2020-09-16T18:12:46.70","v":0.45},{"t":"2020-09-16T18:12:46.75","v":0.6},{"t":"2020-09-16T18:12:46.80","v":0.65},{"t":"2020-09-16T18:12:46.86","v":0.4},{"t":"2020-09-16T18:12:46.93","v":0.3},{"t":"2020-09-16T18:12:47.00","v":0.25},{"t":"2020-09-16T18:12:47.07","v":0.3},{"t":"2020-09-16T18:12:47.14","v":0.3},{"t":"2020-09-16T18:12:47.20","v":0.2},{"t":"2020-09-16T18:12:47.27","v":0.15},{"t":"2020-09-16T18:12:47.38","v":0.2},{"t":"2020-09-16T18:12:47.48","v":0.3},{"t":"2020-09-16T18:12:47.56","v":0.4},{"t":"2020-09-16T18:12:47.64","v":0.25},{"t":"2020-09-16T18:12:47.73","v":0.15},{"t":"2020-09-16T18:12:47.85","v":0.12},{"t":"2020-09-16T18:12:47.95","v":0.1},{"t":"2020-09-16T18:12:48.05","v":0.12},{"t":"2020-09-16T18:12:48.15","v":0.08},{"t":"2020-09-16T18:12:48.30","v":0.1},{"t":"2020-09-16T18:12:48.45","v":0.08},{"t":"2020-09-16T18:12:48.65","v":0.08},{"t":"2020-09-16T18:12:48.80","v":0.1},{"t":"2020-09-16T18:12:48.95","v":0.09},{"t":"2020-09-16T18:12:49.05","v":0.12},{"t":"2020-09-16T18:12:49.16","v":0.15},{"t":"2020-09-16T18:12:49.27","v":0.2},{"t":"2020-09-16T18:12:49.35","v":0.35},{"t":"2020-09-16T18:12:49.41","v":0.3},{"t":"2020-09-16T18:12:49.47","v":0.4},{"t":"2020-09-16T18:12:49.53","v":0.55},{"t":"2020-09-16T18:12:49.60","v":0.45},{"t":"2020-09-16T18:12:49.67","v":0.4},{"t":"2020-09-16T18:12:49.73","v":0.35},{"t":"2020-09-16T18:12:49.80","v":0.3},{"t":"2020-09-16T18:12:49.88","v":0.5},{"t":"2020-09-16T18:12:49.95","v":0.96},{"t":"2020-09-16T18:12:50.00","v":0.8},{"t":"2020-09-16T18:12:50.04","v":0.5},{"t":"2020-09-16T18:12:50.10","v":0.3},{"t":"2020-09-16T18:12:50.17","v":0.2},{"t":"2020-09-16T18:12:50.30","v":0.18},{"t":"2020-09-16T18:12:50.42","v":0.15},{"t":"2020-09-16T18:12:50.55","v":0.12},{"t":"2020-09-16T18:12:50.68","v":0.1},{"t":"2020-09-16T18:12:50.85","v":0.12},{"t":"2020-09-16T18:12:51.00","v":0.1},{"t":"2020-09-16T18:12:51.19","v":0.1},{"t":"2020-09-16T18:12:51.35","v":0.12},{"t":"2020-09-16T18:12:51.53","v":0.1},{"t":"2020-09-16T18:12:51.62","v":0.2},{"t":"2020-09-16T18:12:51.69","v":0.4},{"t":"2020-09-16T18:12:51.75","v":0.9},{"t":"2020-09-16T18:12:51.78","v":1.5},{"t":"2020-09-16T18:12:51.81","v":3.0},{"t":"2020-09-16T18:12:51.83","v":4.1},{"t":"2020-09-16T18:12:51.86","v":4.05},{"t":"2020-09-16T18:12:51.88","v":3.9},{"t":"2020-09-16T18:12:51.91","v":3.4},{"t":"2020-09-16T18:12:51.94","v":2.0},{"t":"2020-09-16T18:12:51.96","v":0.8},
{"t":"2020-09-16T18:12:52.00","v":0.4},{"t":"2020-09-16T18:12:52.03","v":0.2},{"t":"2020-09-16T18:12:52.07","v":0.4},{"t":"2020-09-16T18:12:52.11","v":0.6},{"t":"2020-09-16T18:12:52.16","v":0.8},{"t":"2020-09-16T18:12:52.20","v":0.9},{"t":"2020-09-16T18:12:52.25","v":1.2},{"t":"2020-09-16T18:12:52.29","v":1.46},{"t":"2020-09-16T18:12:52.33","v":0.9},{"t":"2020-09-16T18:12:52.37","v":0.6},{"t":"2020-09-16T18:12:52.43","v":0.55},{"t":"2020-09-16T18:12:52.49","v":0.7},{"t":"2020-09-16T18:12:52.55","v":0.5},{"t":"2020-09-16T18:12:52.62","v":0.4},{"t":"2020-09-16T18:12:52.70","v":0.45},{"t":"2020-09-16T18:12:52.80","v":0.3},{"t":"2020-09-16T18:12:52.88","v":0.3},{"t":"2020-09-16T18:12:52.96","v":0.2},{"t":"2020-09-16T18:12:53.05","v":0.15},{"t":"2020-09-16T18:12:53.20","v":0.12},{"t":"2020-09-16T18:12:53.35","v":0.1},{"t":"2020-09-16T18:12:53.55","v":0.1},{"t":"2020-09-16T18:12:53.72","v":0.15},{"t":"2020-09-16T18:12:53.88","v":0.25},{"t":"2020-09-16T18:12:53.97","v":0.15},{"t":"2020-09-16T18:12:54.10","v":0.12},{"t":"2020-09-16T18:12:54.22","v":0.12},{"t":"2020-09-16T18:12:54.35","v":0.15},{"t":"2020-09-16T18:12:54.47","v":0.25},{"t":"2020-09-16T18:12:54.56","v":0.4},{"t":"2020-09-16T18:12:54.63","v":0.55},{"t":"2020-09-16T18:12:54.69","v":0.7},{"t":"2020-09-16T18:12:54.73","v":0.96},{"t":"2020-09-16T18:12:54.78","v":0.6},{"t":"2020-09-16T18:12:54.83","v":0.3},{"t":"2020-09-16T18:12:54.89","v":0.4},{"t":"2020-09-16T18:12:54.95","v":0.5},{"t":"2020-09-16T18:12:55.01","v":0.35},{"t":"2020-09-16T18:12:55.08","v":0.4},{"t":"2020-09-16T18:12:55.14","v":0.6},{"t":"2020-09-16T18:12:55.20","v":0.87},{"t":"2020-09-16T18:12:55.26","v":0.6},{"t":"2020-09-16T18:12:55.32","v":0.4},{"t":"2020-09-16T18:12:55.40","v":0.35},{"t":"2020-09-16T18:12:55.49","v":0.3},{"t":"2020-09-16T18:12:55.57","v":0.2},{"t":"2020-09-16T18:12:55.66","v":0.1},{"t":"2020-09-16T18:12:55.80","v":0.08},{"t":"2020-09-16T18:12:56.00","v":0.1},{"t":"2020-09-16T18:12:56.25","v":0.08},{"t":"2020-09-16T18:12:56.45","v":0.1},{"t":"2020-09-16T18:12:56.60","v":0.09},{"t":"2020-09-16T18:12:56.76","v":0.1},{"t":"2020-09-16T18:12:56.90","v":0.12},{"t":"2020-09-16T18:12:57.02","v":0.15},{"t":"2020-09-16T18:12:57.13","v":0.3},{"t":"2020-09-16T18:12:57.20","v":0.15},{"t":"2020-09-16T18:12:57.27","v":0.1},{"t":"2020-09-16T18:12:57.40","v":0.12},{"t":"2020-09-16T18:12:57.55","v":0.1},{"t":"2020-09-16T18:12:57.68","v":0.15},{"t":"2020-09-16T18:12:57.77","v":0.35},{"t":"2020-09-16T18:12:57.86","v":0.6},{"t":"2020-09-16T18:12:57.93","v":0.75},
{"t":"2020-09-16T18:12:58.02","v":1.06},{"t":"2020-09-16T18:12:58.08","v":0.8},{"t":"2020-09-16T18:12:58.14","v":0.5},{"t":"2020-09-16T18:12:58.20","v":0.55},{"t":"2020-09-16T18:12:58.27","v":0.4},{"t":"2020-09-16T18:12:58.35","v":0.5},{"t":"2020-09-16T18:12:58.44","v":0.3},{"t":"2020-09-16T18:12:58.52","v":0.5},{"t":"2020-09-16T18:12:58.57","v":0.7},{"t":"2020-09-16T18:12:58.61","v":0.9},{"t":"2020-09-16T18:12:58.65","v":0.75},{"t":"2020-09-16T18:12:58.69","v":0.5},{"t":"2020-09-16T18:12:58.75","v":0.55},{"t":"2020-09-16T18:12:58.81","v":0.6},{"t":"2020-09-16T18:12:58.87","v":0.7},{"t":"2020-09-16T18:12:58.94","v":0.45},{"t":"2020-09-16T18:12:59.04","v":0.3},{"t":"2020-09-16T18:12:59.12","v":0.2},{"t":"2020-09-16T18:12:59.20","v":0.15},{"t":"2020-09-16T18:12:59.28","v":0.2},{"t":"2020-09-16T18:12:59.37","v":0.25},{"t":"2020-09-16T18:12:59.45","v":0.2},{"t":"2020-09-16T18:12:59.54","v":0.3},{"t":"2020-09-16T18:12:59.62","v":0.25},{"t":"2020-09-16T18:12:59.71","v":0.35},{"t":"2020-09-16T18:12:59.80","v":0.25},{"t":"2020-09-16T18:12:59.88","v":0.2},
{"t":"2020-09-16T18:13:00.00","v":0.22},{"t":"2020-09-16T18:13:00.13","v":0.3},{"t":"2020-09-16T18:13:00.20","v":0.2},{"t":"2020-09-16T18:13:00.26","v":0.15},{"t":"2020-09-16T18:13:00.32","v":0.6},{"t":"2020-09-16T18:13:00.38","v":1.55},{"t":"2020-09-16T18:13:00.42","v":1.3},{"t":"2020-09-16T18:13:00.47","v":1.0},{"t":"2020-09-16T18:13:00.51","v":1.6},{"t":"2020-09-16T18:13:00.55","v":2.0},{"t":"2020-09-16T18:13:00.60","v":1.5},{"t":"2020-09-16T18:13:00.64","v":1.0},{"t":"2020-09-16T18:13:00.68","v":0.6},{"t":"2020-09-16T18:13:00.72","v":0.3},{"t":"2020-09-16T18:13:00.80","v":0.4},{"t":"2020-09-16T18:13:00.89","v":0.6},{"t":"2020-09-16T18:13:00.95","v":0.45},{"t":"2020-09-16T18:13:01.02","v":0.3},{"t":"2020-09-16T18:13:01.08","v":0.6},{"t":"2020-09-16T18:13:01.14","v":1.44},{"t":"2020-09-16T18:13:01.18","v":1.0},{"t":"2020-09-16T18:13:01.22","v":0.5},{"t":"2020-09-16T18:13:01.30","v":0.45},{"t":"2020-09-16T18:13:01.39","v":0.4},{"t":"2020-09-16T18:13:01.46","v":0.5},{"t":"2020-09-16T18:13:01.54","v":0.6},{"t":"2020-09-16T18:13:01.61","v":0.87},{"t":"2020-09-16T18:13:01.66","v":0.6},{"t":"2020-09-16T18:13:01.72","v":0.3},{"t":"2020-09-16T18:13:01.80","v":0.35},{"t":"2020-09-16T18:13:01.89","v":0.4},{"t":"2020-09-16T18:13:01.97","v":0.3},{"t":"2020-09-16T18:13:02.07","v":0.2},{"t":"2020-09-16T18:13:02.15","v":0.25},{"t":"2020-09-16T18:13:02.24","v":0.3},{"t":"2020-09-16T18:13:02.33","v":0.4},{"t":"2020-09-16T18:13:02.42","v":0.6},{"t":"2020-09-16T18:13:02.49","v":0.75},{"t":"2020-09-16T18:13:02.55","v":0.45},{"t":"2020-09-16T18:13:02.63","v":0.2},{"t":"2020-09-16T18:13:02.75","v":0.15},{"t":"2020-09-16T18:13:02.88","v":0.13},{"t":"2020-09-16T18:13:03.00","v":0.12},{"t":"2020-09-16T18:13:03.15","v":0.1},{"t":"2020-09-16T18:13:03.30","v":0.13},{"t":"2020-09-16T18:13:03.51","v":0.1},{"t":"2020-09-16T18:13:03.65","v":0.15},{"t":"2020-09-16T18:13:03.80","v":0.2},{"t":"2020-09-16T18:13:03.93","v":0.35},{"t":"2020-09-16T18:13:04.01","v":0.25},{"t":"2020-09-16T18:13:04.10","v":0.2},{"t":"2020-09-16T18:13:04.19","v":0.35},{"t":"2020-09-16T18:13:04.27","v":0.45},{"t":"2020-09-16T18:13:04.35","v":0.3},{"t":"2020-09-16T18:13:04.44","v":0.3},{"t":"2020-09-16T18:13:04.52","v":0.25},{"t":"2020-09-16T18:13:04.60","v":0.35},{"t":"2020-09-16T18:13:04.69","v":0.4},{"t":"2020-09-16T18:13:04.78","v":0.25},{"t":"2020-09-16T18:13:04.86","v":0.15},{"t":"2020-09-16T18:13:04.98","v":0.2},{"t":"2020-09-16T18:13:05.08","v":0.15},{"t":"2020-09-16T18:13:05.20","v":0.2},{"t":"2020-09-16T18:13:05.35","v":0.12},{"t":"2020-09-16T18:13:05.54","v":0.1},{"t":"2020-09-16T18:13:05.70","v":0.13},{"t":"2020-09-16T18:13:05.88","v":0.15},{"t":"2020-09-16T18:13:06.02","v":0.12},{"t":"2020-09-16T18:13:06.14","v":0.1}
]
},
"spacing": 6,
"resolve": {"scale": {"y": "independent"}},
"vconcat": [
{
  "width": 1149, "height": 253,
  "layer": [
    {"data": {"values": [{"z": 0}]}, "mark": {"type": "rule", "color": "white", "strokeWidth": 2},
     "encoding": {
       "y": {"field": "z", "type": "quantitative", "scale": {"domain": [-1.05, 6.12], "nice": false, "zero": false},
             "axis": {"title": "degree", "titleFont": "Lato", "titleFontSize": 21, "titleFontWeight": "normal", "titleColor": "black", "titlePadding": 9, "titleY": 169,
                      "values": [-1, 0, 1, 2, 3, 4, 5], "labelExpr": "datum.value >= 0 && datum.value <= 3 ? datum.label : ''",
                      "labelFont": "Open Sans", "labelFontSize": 13, "labelColor": "#444", "labelPadding": 24, "minExtent": 32, "maxExtent": 32,
                      "gridColor": "white"}}
     }},
    {"data": {"name": "L"}, "mark": {"type": "line", "color": "#EF553B", "strokeWidth": 1.5},
     "encoding": {
       "x": {"field": "t", "type": "temporal",
             "scale": {"domain": [{"year": 2020, "month": 9, "date": 16, "hours": 18, "minutes": 12, "seconds": 7, "milliseconds": 970}, {"year": 2020, "month": 9, "date": 16, "hours": 18, "minutes": 13, "seconds": 6, "milliseconds": 180}]},
             "axis": {"title": null, "labels": false, "grid": true, "gridColor": "white",
                      "values": [{"year": 2020, "month": 9, "date": 16, "hours": 18, "minutes": 12, "seconds": 10}, {"year": 2020, "month": 9, "date": 16, "hours": 18, "minutes": 12, "seconds": 20}, {"year": 2020, "month": 9, "date": 16, "hours": 18, "minutes": 12, "seconds": 30}, {"year": 2020, "month": 9, "date": 16, "hours": 18, "minutes": 12, "seconds": 40}, {"year": 2020, "month": 9, "date": 16, "hours": 18, "minutes": 12, "seconds": 50}, {"year": 2020, "month": 9, "date": 16, "hours": 18, "minutes": 13, "seconds": 0}]}},
       "y": {"field": "v", "type": "quantitative"}
     }},
    {"data": {"name": "E"}, "mark": {"type": "rule", "strokeWidth": 1.6, "strokeOpacity": 0.55},
     "encoding": {
       "x": {"field": "t", "type": "temporal"},
       "y": {"datum": -1}, "y2": {"datum": 1},
       "color": {"field": "e", "type": "nominal",
                 "scale": {"domain": ["puck start flight", "puck finished flight (hitting a stick/ goal line)"], "range": ["#0AA848", "#FF0000"]},
                 "legend": {"title": null, "orient": "none", "legendX": -24, "legendY": 584, "direction": "vertical",
                            "symbolType": "M-3.6,0H3.6", "symbolSize": 484, "symbolStrokeWidth": 4, "symbolOpacity": 1,
                            "rowPadding": 7, "labelOffset": 29, "labelFont": "Lato", "labelFontSize": 27, "labelColor": "black", "labelLimit": 1000}}
     }},
    {"data": {"values": [{"t": "2020-09-16T18:12:08.63", "v": 4.0, "label": "Left knee joint"}]},
     "mark": {"type": "text", "align": "left", "baseline": "alphabetic", "font": "Lato", "fontSize": 27, "color": "black"},
     "encoding": {"x": {"field": "t", "type": "temporal"}, "y": {"field": "v", "type": "quantitative"}, "text": {"field": "label"}}}
  ]
},
{
  "width": 1149, "height": 253,
  "layer": [
    {"data": {"values": [{"z": 0}]}, "mark": {"type": "rule", "color": "white", "strokeWidth": 2},
     "encoding": {
       "y": {"field": "z", "type": "quantitative", "scale": {"domain": [-1.25, 5.64], "nice": false, "zero": false},
             "axis": {"title": "degree", "titleFont": "Lato", "titleFontSize": 21, "titleFontWeight": "normal", "titleColor": "black", "titlePadding": 9, "titleY": 157,
                      "values": [-1, 0, 1, 2, 3, 4, 5], "labelExpr": "datum.value >= 0 && datum.value <= 3 ? datum.label : ''",
                      "labelFont": "Open Sans", "labelFontSize": 13, "labelColor": "#444", "labelPadding": 24, "minExtent": 32, "maxExtent": 32,
                      "gridColor": "white"}}
     }},
    {"data": {"name": "R"}, "mark": {"type": "line", "color": "#636EFA", "strokeWidth": 1.5},
     "encoding": {
       "x": {"field": "t", "type": "temporal",
             "scale": {"domain": [{"year": 2020, "month": 9, "date": 16, "hours": 18, "minutes": 12, "seconds": 7, "milliseconds": 970}, {"year": 2020, "month": 9, "date": 16, "hours": 18, "minutes": 13, "seconds": 6, "milliseconds": 180}]},
             "axis": {"title": null, "grid": true, "gridColor": "white",
                      "values": [{"year": 2020, "month": 9, "date": 16, "hours": 18, "minutes": 12, "seconds": 10}, {"year": 2020, "month": 9, "date": 16, "hours": 18, "minutes": 12, "seconds": 20}, {"year": 2020, "month": 9, "date": 16, "hours": 18, "minutes": 12, "seconds": 30}, {"year": 2020, "month": 9, "date": 16, "hours": 18, "minutes": 12, "seconds": 40}, {"year": 2020, "month": 9, "date": 16, "hours": 18, "minutes": 12, "seconds": 50}, {"year": 2020, "month": 9, "date": 16, "hours": 18, "minutes": 13, "seconds": 0}],
                      "labelExpr": "timeFormat(datum.value, '%M:%S') == '12:10' ? [timeFormat(datum.value, '%H:%M:%S'), timeFormat(datum.value, '%b %d, %Y')] : timeFormat(datum.value, '%H:%M:%S')",
                      "labelFont": "Open Sans", "labelFontSize": 9, "labelColor": "#2a3f5f", "labelPadding": 3, "labelLineHeight": 10, "labelFlush": false, "labelOverlap": false}},
       "y": {"field": "v", "type": "quantitative"}
     }},
    {"data": {"name": "E"}, "mark": {"type": "rule", "strokeWidth": 1.6, "strokeOpacity": 0.55},
     "encoding": {
       "x": {"field": "t", "type": "temporal"},
       "y": {"datum": -1}, "y2": {"datum": 1},
       "color": {"field": "e", "type": "nominal"}
     }},
    {"data": {"values": [{"t": "2020-09-16T18:12:08.63", "v": 3.13, "label": "Right knee joint"}]},
     "mark": {"type": "text", "align": "left", "baseline": "alphabetic", "font": "Lato", "fontSize": 27, "color": "black"},
     "encoding": {"x": {"field": "t", "type": "temporal"}, "y": {"field": "v", "type": "quantitative"}, "text": {"field": "label"}}},
    {"data": {"values": [{"t": "2020-09-16T18:12:50.17", "t2": "2020-09-16T18:12:59.30", "v": -2.4}]},
     "mark": {"type": "rule", "color": "black", "strokeWidth": 2.5},
     "encoding": {"x": {"field": "t", "type": "temporal"}, "x2": {"field": "t2"}, "y": {"field": "v", "type": "quantitative"}}},
    {"data": {"values": [{"t": "2020-09-16T18:12:59.44", "v": -2.4}]},
     "mark": {"type": "point", "shape": "triangle-right", "filled": true, "color": "black", "opacity": 1, "size": 110},
     "encoding": {"x": {"field": "t", "type": "temporal"}, "y": {"field": "v", "type": "quantitative"}}},
    {"data": {"values": [{"t": "2020-09-16T18:12:54.73", "v": -2.98, "label": "time, 5 sec"}]},
     "mark": {"type": "text", "align": "center", "baseline": "middle", "font": "Lato", "fontSize": 21, "color": "black"},
     "encoding": {"x": {"field": "t", "type": "temporal"}, "y": {"field": "v", "type": "quantitative"}, "text": {"field": "label"}}}
  ]
}
]
}
